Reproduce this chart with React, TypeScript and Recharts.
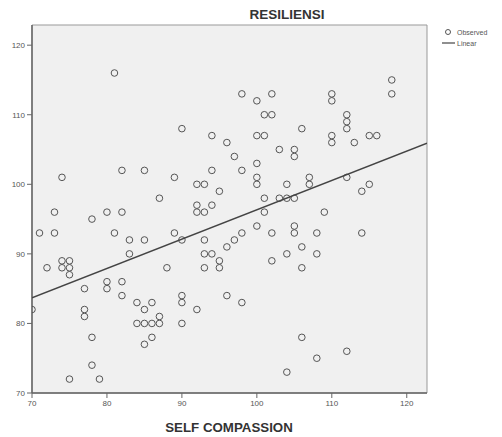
import React from 'react';
import { ScatterChart, Scatter, XAxis, YAxis, ReferenceArea } from 'recharts';

// self compassion (x) vs resiliensi (y)
const selfCompassion = [
  81, 90, 74, 82, 85, 89, 92, 93, 87, 73, 78, 80, 82, 92, 92, 93, 94,
  98, 102, 100, 110, 110, 101, 102, 112, 112, 112, 94, 96, 100, 101, 106,
  110, 110, 113, 115, 116, 103, 105, 105, 97, 94, 98, 100, 100, 100, 95,
  104, 107, 107, 112, 115, 114, 101, 103, 104, 105, 101, 109, 100, 105,
  118, 118, 114, 71, 73, 81, 83, 85, 89, 90, 83, 74, 75, 74, 75, 72, 75,
  88, 77, 80, 80, 82, 82, 70, 77, 77, 84, 85, 86, 87, 90, 90, 92, 84, 85,
  86, 87, 90, 78, 85, 86, 78, 75, 79, 105, 98, 102, 108, 93, 97, 96, 93,
  94, 95, 95, 93, 102, 104, 106, 108, 106, 96, 98, 106, 108, 112, 104,
];
const resiliensi = [
  116, 108, 101, 102, 102, 101, 100, 100, 98, 96, 95, 96, 96, 97, 96, 96, 97,
  113, 113, 112, 113, 112, 110, 110, 110, 109, 108, 107, 106, 107, 107, 108,
  107, 106, 106, 107, 107, 105, 105, 104, 104, 102, 102, 103, 101, 100, 99,
  100, 101, 100, 101, 100, 99, 98, 98, 98, 98, 96, 96, 94, 94,
  115, 113, 93, 93, 93, 93, 92, 92, 93, 92, 90, 89, 89, 88, 88, 88, 87,
  88, 85, 86, 85, 86, 84, 82, 82, 81, 83, 82, 83, 81, 84, 83, 82, 80, 80,
  80, 80, 80, 78, 77, 78, 74, 72, 72, 93, 93, 93, 93, 92, 92, 91, 90,
  90, 89, 88, 88, 89, 90, 91, 90, 88, 84, 83, 78, 75, 76, 73,
];

// linear fit
const fitX = [70, 122.7];
const fitY = [83.7, 105.9];

const xTicks = [70, 80, 90, 100, 110, 120];
const yTicks = [70, 80, 90, 100, 110, 120];

const observed = selfCompassion.map((x, i) => ({ x, y: resiliensi[i] }));
const linear = fitX.map((x, i) => ({ x, y: fitY[i] }));

const font = '"Liberation Sans", Arial, sans-serif';

const Ring = (props: any) => {
  const { cx, cy } = props;
  if (cx == null || cy == null) return null;
  return <circle cx={cx} cy={cy} r={3.3} fill="none" stroke="#555" strokeWidth={1} />;
};

const App: React.FC = () => {
  return (
    <div style={{ position: 'absolute', left: 0, top: 0, width: 502, height: 437, background: '#fff', fontFamily: font }}>
      <div style={{ position: 'absolute', left: 227, top: 7, width: 120, textAlign: 'center', fontSize: 13.5, lineHeight: '16px', fontWeight: 'bold', color: '#333' }}>
        RESILIENSI
      </div>
      <ScatterChart width={502} height={437} margin={{ top: 25, right: 75, bottom: 0, left: 0 }}>
        <XAxis
          type="number"
          dataKey="x"
          domain={[70, 122.7]}
          ticks={xTicks}
          allowDataOverflow
          height={44}
          tick={{ fontSize: 8, fill: '#555', fontFamily: font }}
          tickLine={{ stroke: '#666' }}
          tickSize={5}
          axisLine={{ stroke: '#666', strokeWidth: 1.5 }}
        />
        <YAxis
          type="number"
          dataKey="y"
          domain={[70, 122.9]}
          ticks={yTicks}
          allowDataOverflow
          width={32}
          tick={{ fontSize: 8, fill: '#555', fontFamily: font }}
          tickLine={{ stroke: '#666' }}
          tickSize={5}
          axisLine={{ stroke: '#666', strokeWidth: 1.5 }}
        />
        <ReferenceArea x1={70} x2={122.7} y1={70} y2={122.9} fill="#f0f0f0" fillOpacity={1} stroke="#999" strokeWidth={1} />
        <Scatter data={observed} shape={Ring} isAnimationActive={false} />
        <Scatter
          data={linear}
          line={{ stroke: '#444', strokeWidth: 1.5 }}
          shape={() => null}
          isAnimationActive={false}
        />
      </ScatterChart>
      <div style={{ position: 'absolute', left: 149, top: 420, width: 160, textAlign: 'center', fontSize: 13.3, lineHeight: '16px', fontWeight: 'bold', color: '#333' }}>
        SELF COMPASSION
      </div>
      <svg style={{ position: 'absolute', left: 436, top: 26 }} width={66} height={26}>
        <circle cx={12} cy={6} r={2.5} fill="none" stroke="#555" strokeWidth={1} />
        <text x={21} y={9} fontSize={7} fill="#555" fontFamily={font}>Observed</text>
        <line x1={6} y1={17} x2={19} y2={17} stroke="#444" strokeWidth={1.2} />
        <text x={21} y={20} fontSize={7} fill="#555" fontFamily={font}>Linear</text>
      </svg>
    </div>
  );
};

export default App;
